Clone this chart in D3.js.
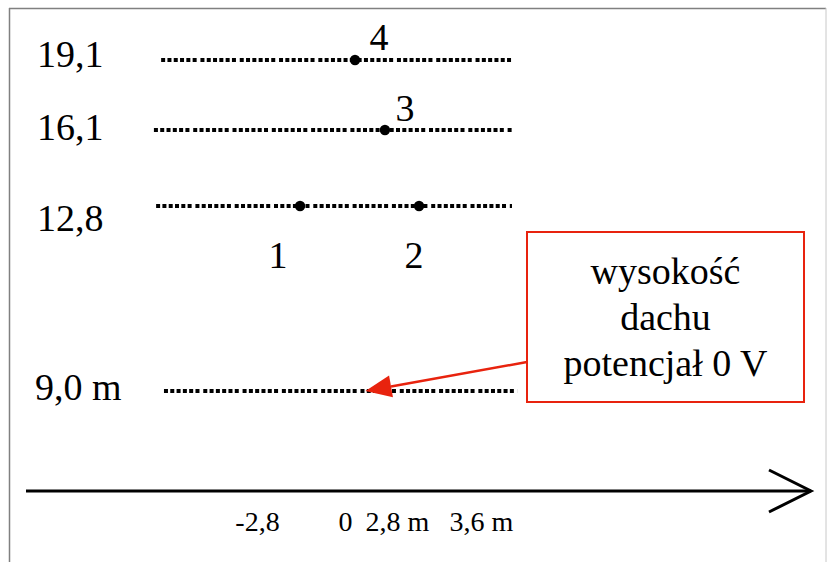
<!DOCTYPE html>
<html>
<head>
<meta charset="utf-8">
<script src="https://cdn.jsdelivr.net/npm/d3@7"></script>
<style>
  html, body { margin: 0; padding: 0; background: #fff; }
  svg { display: block; }
  text { font-family: "Liberation Serif", "Times New Roman", serif; fill: #000; }
</style>
</head>
<body>
<div id="chart"></div>
<script>
// ---------------- data ----------------
const levels = [19.1, 16.1, 12.8, 9.0];                 // heights (m)
const levelLabels = ["19,1", "16,1", "12,8", "9,0 m"];
const lineStart = [-5.85, -6.08, -6.01, -5.76];          // dotted line extents (x units)
const lineEnd   = [3.895, 3.9, 3.895, 3.95];

const pointNames  = ["1", "2", "3", "4"];
const pointX      = [-1.43, 3.01, 2.15, 0.54];
const pointHeight = [12.8, 12.8, 16.1, 19.1];

const tickValues = [-2.8, 0, 2.8, 3.6];
const tickLabels = ["-2,8", "0", "2,8 m", "3,6 m"];

const noteLines = ["wysokość", "dachu", "potencjał 0 V"];
const noteTargetX = 1.1, noteTargetH = 9.0;

// ---------------- layout ----------------
const W = 828, H = 562;
const axisY = 491;
const svg = d3.select("#chart").append("svg").attr("width", W).attr("height", H);

// schematic (piecewise) scales
const y = d3.scaleLinear().domain([9.0, 12.8, 16.1, 19.1]).range([391, 206, 130, 60]);
const x = d3.scaleLinear().domain(tickValues).range([257, 345, 397, 481]);

// frame
svg.append("line").attr("x1", 9).attr("x2", 826).attr("y1", 8.5).attr("y2", 8.5)
  .attr("stroke", "#808080").attr("stroke-width", 1.5);
svg.append("line").attr("x1", 9.5).attr("x2", 9.5).attr("y1", 8).attr("y2", H)
  .attr("stroke", "#808080").attr("stroke-width", 1.5);
svg.append("line").attr("x1", 826).attr("x2", 826).attr("y1", 8).attr("y2", H)
  .attr("stroke", "#c8c8c8").attr("stroke-width", 1);

// dotted level lines
svg.append("g").selectAll("line").data(levels).join("line")
  .attr("x1", (d, i) => x(lineStart[i]))
  .attr("x2", (d, i) => x(lineEnd[i]))
  .attr("y1", d => y(d)).attr("y2", d => y(d))
  .attr("stroke", "#000").attr("stroke-width", 3.8)
  .attr("stroke-dasharray", "4,2.3,4,2.3,4,2.3,4,2.3,4,2.3,4,3.8");

// level labels
const labelDy = [7, 10, 25, 9];
const labelX = [37, 37, 37, 35];
svg.append("g").selectAll("text").data(levels).join("text")
  .attr("x", (d, i) => labelX[i])
  .attr("y", (d, i) => y(d) + labelDy[i])
  .attr("font-size", 38)
  .text((d, i) => levelLabels[i]);

// points
svg.append("g").selectAll("path").data(pointNames).join("path")
  .attr("transform", (d, i) => `translate(${x(pointX[i])},${y(pointHeight[i])})`)
  .attr("d", d3.symbol().type(d3.symbolCircle).size(85))
  .attr("fill", "#000");

// point labels
const pLabelDx = [-22, -5, 20, 24];
const pLabelDy = [62, 62, -9, -10];
svg.append("g").selectAll("text").data(pointNames).join("text")
  .attr("x", (d, i) => x(pointX[i]) + pLabelDx[i])
  .attr("y", (d, i) => y(pointHeight[i]) + pLabelDy[i])
  .attr("text-anchor", "middle")
  .attr("font-size", 38)
  .text(d => d);

// x axis (arrow)
svg.append("line").attr("x1", 26).attr("x2", 811).attr("y1", axisY).attr("y2", axisY)
  .attr("stroke", "#000").attr("stroke-width", 3);
svg.append("path").attr("d", `M769,470 L811,${axisY} L769,512`)
  .attr("fill", "none").attr("stroke", "#000").attr("stroke-width", 3);

const axis = d3.axisBottom(x).tickValues(tickValues).tickSize(0)
  .tickFormat((d, i) => tickLabels[i]);
const gAxis = svg.append("g").attr("transform", `translate(0,${axisY})`).call(axis);
gAxis.select(".domain").remove();
gAxis.selectAll("text").attr("font-size", 28).attr("dy", 0).attr("y", 40)
  .style("font-family", '"Liberation Serif", "Times New Roman", serif').attr("fill", "#000");

// annotation box
const red = "#e8230e";
const box = { x: 527, y: 232, w: 277, h: 170 };
svg.append("rect").attr("x", box.x).attr("y", box.y).attr("width", box.w).attr("height", box.h)
  .attr("fill", "#fff").attr("stroke", red).attr("stroke-width", 2);
svg.append("g").selectAll("text").data(noteLines).join("text")
  .attr("x", box.x + box.w / 2)
  .attr("y", (d, i) => 284 + i * 46)
  .attr("text-anchor", "middle")
  .attr("font-size", 38)
  .text(d => d);

// annotation arrow
const sx = box.x, sy = 362;
const tx = x(noteTargetX), ty = y(noteTargetH);
const len = Math.hypot(tx - sx, ty - sy);
const ux = (tx - sx) / len, uy = (ty - sy) / len;
const headL = 26, headW = 11;
const bx = tx - ux * headL, by = ty - uy * headL;
svg.append("line").attr("x1", sx).attr("y1", sy).attr("x2", bx).attr("y2", by)
  .attr("stroke", red).attr("stroke-width", 2.5);
svg.append("path")
  .attr("d", `M${tx},${ty} L${bx - uy * headW},${by + ux * headW} L${bx + uy * headW},${by - ux * headW} Z`)
  .attr("fill", red);
</script>
</body>
</html>
